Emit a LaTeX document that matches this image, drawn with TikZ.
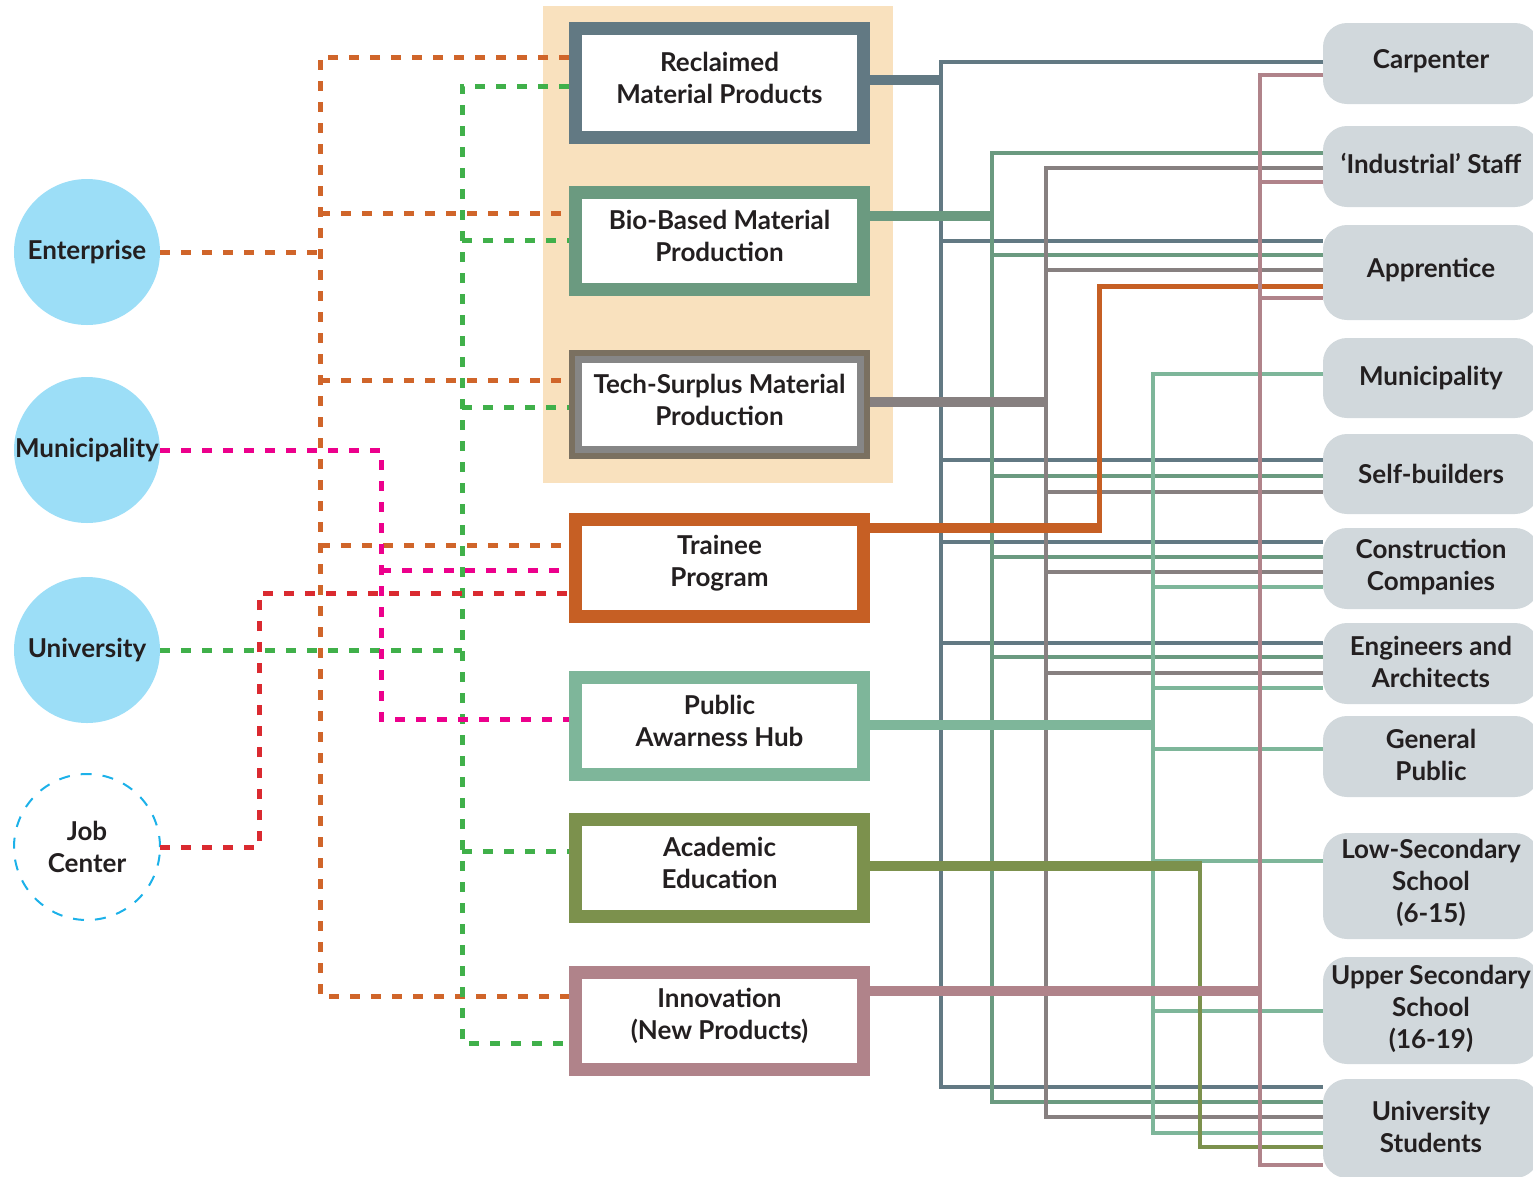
\documentclass[tikz,border=0pt]{standalone}
\usepackage{fontspec}
\setmainfont{Lato}
\usetikzlibrary{calc}
\definecolor{cSlate}{HTML}{627983}
\definecolor{cBio}{HTML}{6B9A80}
\definecolor{cTechO}{HTML}{7A7060}
\definecolor{cTech}{HTML}{878080}
\definecolor{cTechI}{HTML}{868686}
\definecolor{cTrn}{HTML}{C65F24}
\definecolor{cPub}{HTML}{7EB69A}
\definecolor{cAca}{HTML}{7C914D}
\definecolor{cInn}{HTML}{B0838A}
\definecolor{dOr}{HTML}{D0652A}
\definecolor{dGr}{HTML}{40B04A}
\definecolor{dMa}{HTML}{EC008C}
\definecolor{dRe}{HTML}{DA2A30}
\definecolor{cCirc}{HTML}{9CDEF7}
\definecolor{cJob}{HTML}{1CB1E9}
\definecolor{cPeach}{HTML}{F9E1BE}
\definecolor{cGrayB}{HTML}{D1D8DC}
\definecolor{cTxt}{HTML}{231F20}
\begin{document}
\begin{tikzpicture}[x=1pt,y=-1pt,
 txt/.style={font=\fontsize{26}{32}\selectfont\bfseries, text=cTxt, align=center, inner sep=0, draw=none, fill=none},
 pbox/.style={draw=#1, line width=13pt, fill=white, minimum width=288pt, minimum height=97pt, inner sep=0},
 tbox/.style={fill=cGrayB, rounded corners=24pt, minimum width=216pt, inner sep=0, outer sep=0},
 circ/.style={circle, fill=cCirc, minimum size=146pt, inner sep=0, outer sep=0},
 dsh/.style={draw=#1, line width=5pt, dash pattern=on 10pt off 11pt, line join=miter},
 wire/.style={draw=#1, line width=4.5pt, line join=miter},
 stub/.style={draw=#1, line width=10pt},
]
\useasboundingbox (0,0) rectangle (1533,1176);
\clip (0,0) rectangle (1533,1176);

% group background
\node[fill=cPeach, minimum width=350pt, minimum height=477pt, inner sep=0, outer sep=0] (grp) at (718,244.5) {};

% central boxes
\node[pbox=cSlate, minimum height=109pt, label={[txt,yshift=5pt]center:{Reclaimed\\Material Products}}] (rec) at (719.5,83) {};
\node[pbox=cBio, label={[txt,yshift=5pt]center:{Bio-Based Material\\Production}}] (bio) at (719.5,241) {};
\node[pbox=cTechO, minimum height=96pt, label={[txt,yshift=5pt]center:{Tech-Surplus Material\\Production}}] (tech) at (719.5,404.5) {};
\draw[cTechI, line width=7pt] ($(tech.north west)+(9.5,9.5)$) rectangle ($(tech.south east)+(-9.5,-9.5)$);
\node[pbox=cTrn, label={[txt,yshift=5pt]center:{Trainee\\Program}}] (trn) at (719.5,568) {};
\node[pbox=cPub, label={[txt,yshift=5pt]center:{Public\\Awarness Hub}}] (pub) at (719.5,726) {};
\node[pbox=cAca, label={[txt,yshift=5pt]center:{Academic\\Education}}] (aca) at (719.5,868) {};
\node[pbox=cInn, label={[txt,yshift=5pt]center:{Innovation\\(New Products)}}] (inn) at (719.5,1021) {};

% left circles
\node[circ, label={[txt]center:Enterprise}] (ent) at (87,252) {};
\node[circ, label={[txt]center:Municipality}] (muni) at (87,450) {};
\node[circ, label={[txt]center:University}] (uni) at (87,650) {};
\node[circle, draw=cJob, line width=2pt, dash pattern=on 11pt off 11pt, minimum size=146pt, inner sep=0, outer sep=0, label={[txt]center:{Job\\Center}}] (jc) at (87,847) {};

% right target groups
\node[tbox, minimum height=81pt, label={[txt,yshift=2pt]center:Carpenter}] (carp) at (1431,63.5) {};
\node[tbox, minimum height=81pt, label={[txt,yshift=3pt]center:{`Industrial' Staff}}] (ind) at (1431,166.5) {};
\node[tbox, minimum height=95pt, label={[txt,yshift=2pt]center:Apprentice}] (app) at (1431,272.5) {};
\node[tbox, minimum height=80pt, label={[txt]center:Municipality}] (muni2) at (1431,378) {};
\node[tbox, minimum height=80pt, label={[txt]center:Self-builders}] (self) at (1431,474) {};
\node[tbox, minimum height=81pt, label={[txt,yshift=2pt]center:{Construction\\Companies}}] (cons) at (1431,568.5) {};
\node[tbox, minimum height=81pt, label={[txt,yshift=2pt]center:{Engineers and\\Architects}}] (eng) at (1431,663.5) {};
\node[tbox, minimum height=81pt, label={[txt,yshift=2pt]center:{General\\Public}}] (genp) at (1431,756.5) {};
\node[tbox, minimum height=106pt, label={[txt,yshift=3pt]center:{Low-Secondary\\School\\(6-15)}}] (low) at (1431,886) {};
\node[tbox, minimum height=107pt, label={[txt,yshift=2pt]center:{Upper Secondary\\School\\(16-19)}}] (upp) at (1431,1010.5) {};
\node[tbox, minimum height=99pt, label={[txt,yshift=2pt]center:{University\\Students}}] (unis) at (1431,1128.5) {};

% bus coordinates
\coordinate (bR) at (941,0);
\coordinate (bB) at (992,0);
\coordinate (bT) at (1046,0);
\coordinate (bO) at (1099,0);
\coordinate (bP) at (1153,0);
\coordinate (bA) at (1200,0);
\coordinate (bI) at (1260,0);
\coordinate (oX) at (320,0);
\coordinate (gX) at (462,0);
\coordinate (mX) at (381,0);
\coordinate (rX) at (259,0);

% reclaimed
\draw[stub=cSlate] (rec.east |- 0,80) -- (bR |- 0,80);
\draw[wire=cSlate] (carp.west |- 0,62) -| (bR |- 0,1087) -- (unis.west |- 0,1087);
\foreach \yy/\tg in {241/app,460/self,542/cons,643/eng}
  \draw[wire=cSlate] (bR |- 0,\yy) -- (\tg.west |- 0,\yy);
% bio
\draw[stub=cBio] (bio.east |- 0,216) -- ($(bB |- 0,216)+(2.25,0)$);
\draw[wire=cBio] (ind.west |- 0,153) -| (bB |- 0,1102) -- (unis.west |- 0,1102);
\foreach \yy/\tg in {255/app,476/self,557/cons,657/eng}
  \draw[wire=cBio] (bB |- 0,\yy) -- (\tg.west |- 0,\yy);
% tech
\draw[stub=cTech] (tech.east |- 0,402) -- ($(bT |- 0,402)+(2.25,0)$);
\draw[wire=cTech] (ind.west |- 0,168) -| (bT |- 0,1117) -- (unis.west |- 0,1117);
\foreach \yy/\tg in {270/app,492/self,572/cons,673/eng}
  \draw[wire=cTech] (bT |- 0,\yy) -- (\tg.west |- 0,\yy);
% trainee
\draw[stub=cTrn] (trn.east |- 0,528) -- ($(bO |- 0,528)+(2.5,0)$);
\draw[wire=cTrn, line width=5pt] (bO |- 0,528) |- (app.west |- 0,286);
% public
\draw[stub=cPub] (pub.east |- 0,725) -- ($(bP |- 0,725)+(2.25,0)$);
\draw[wire=cPub] (muni2.west |- 0,374) -| (bP |- 0,1133) -- (unis.west |- 0,1133);
\foreach \yy/\tg in {587/cons,688/eng,749/genp,861/low,1011/upp}
  \draw[wire=cPub] (bP |- 0,\yy) -- (\tg.west |- 0,\yy);
% academic
\draw[stub=cAca] (aca.east |- 0,866) -- ($(bA |- 0,866)+(2.25,0)$);
\draw[wire=cAca] (bA |- 0,866) |- (unis.west |- 0,1147);
% innovation
\draw[stub=cInn] (inn.east |- 0,991) -- ($(bI |- 0,991)+(2.25,0)$);
\draw[wire=cInn] (carp.west |- 0,75) -| (bI |- 0,1165) -- (unis.west |- 0,1165);
\foreach \yy/\tg in {182/ind,298/app}
  \draw[wire=cInn] (bI |- 0,\yy) -- (\tg.west |- 0,\yy);

% left dashed: enterprise
\draw[dsh=dOr] (rec.west |- 0,57) -| (oX |- 0,996) -- (inn.west |- 0,996);
\draw[dsh=dOr] (ent.east) -- (oX |- ent.east);
\foreach \yy/\tg in {213/bio,380/tech,545/trn}
  \draw[dsh=dOr] (oX |- 0,\yy) -- (\tg.west |- 0,\yy);
% university
\draw[dsh=dGr] (rec.west |- 0,86) -| (gX |- 0,1043) -- (inn.west |- 0,1043);
\draw[dsh=dGr] (uni.east) -- (gX |- uni.east);
\foreach \yy/\tg in {240/bio,407/tech,851/aca}
  \draw[dsh=dGr] (gX |- 0,\yy) -- (\tg.west |- 0,\yy);
% municipality
\draw[dsh=dMa] (muni.east) -| (mX |- 0,719) -- (pub.west |- 0,719);
\draw[dsh=dMa] (mX |- 0,570) -- (trn.west |- 0,570);
% job center
\draw[dsh=dRe] (jc.east) -| (rX |- 0,593) -- (trn.west |- 0,593);
\end{tikzpicture}
\end{document}
